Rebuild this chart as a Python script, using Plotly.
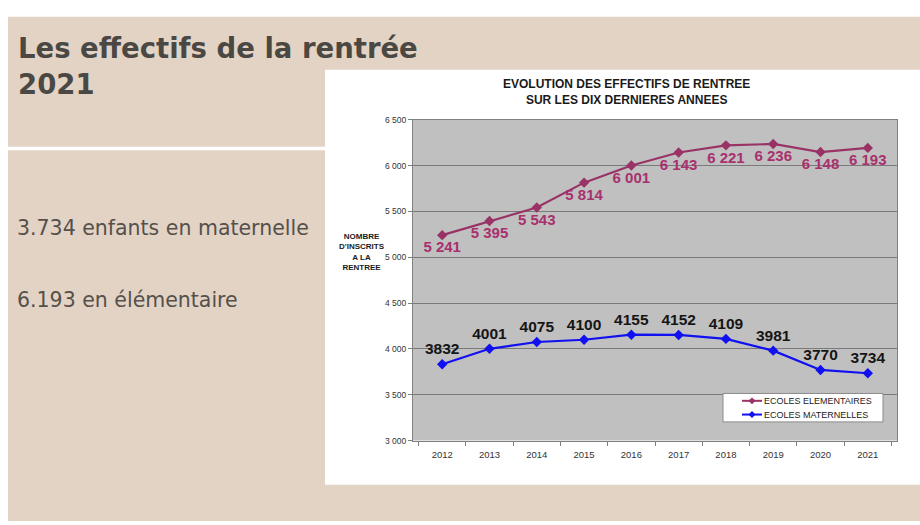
import plotly.graph_objects as go

years = ["2012", "2013", "2014", "2015", "2016", "2017", "2018", "2019", "2020", "2021"]
elementaires = [5241, 5395, 5543, 5814, 6001, 6143, 6221, 6236, 6148, 6193]
maternelles = [3832, 4001, 4075, 4100, 4155, 4152, 4109, 3981, 3770, 3734]
y_tick_vals = [3000, 3500, 4000, 4500, 5000, 5500, 6000, 6500]
y_tick_text = ["3 000", "3 500", "4 000", "4 500", "5 000", "5 500", "6 000", "6 500"]
series_names = ["ECOLES ELEMENTAIRES", "ECOLES MATERNELLES"]

W, H = 920, 525
def px(x):
    return x / W
def py(y):
    return 1 - y / H

BEIGE = "#e3d3c5"
TXT = "#4b4844"
PLUM = "#993366"
BLUE = "#1010f0"
ARIAL = "Liberation Sans, Arial, sans-serif"

fig = go.Figure()
fig.add_trace(go.Scatter(
    x=years, y=elementaires, mode="lines+markers+text",
    name=series_names[0], showlegend=False,
    line=dict(color=PLUM, width=2.2),
    marker=dict(symbol="diamond", size=8, color=PLUM),
    text=[f"{v:,}".replace(",", " ") for v in elementaires],
    textposition="bottom center",
    textfont=dict(family=ARIAL, size=15, color="#a8306e", weight="bold"),
    cliponaxis=False,
))
fig.add_trace(go.Scatter(
    x=years, y=maternelles, mode="lines+markers+text",
    name=series_names[1], showlegend=False,
    line=dict(color=BLUE, width=2.2),
    marker=dict(symbol="diamond", size=8, color=BLUE),
    text=[str(v) for v in maternelles],
    textposition="top center",
    textfont=dict(family=ARIAL, size=15.5, color="#151515", weight="bold"),
    cliponaxis=False,
))

def diamond(cx, cy, r=3.5):
    return (f"M {px(cx)} {py(cy - r)} L {px(cx + r)} {py(cy)} "
            f"L {px(cx)} {py(cy + r)} L {px(cx - r)} {py(cy)} Z")

shapes = [
    # beige slide
    dict(type="rect", xref="paper", yref="paper", x0=px(8), x1=px(921), y0=py(12), y1=py(526),
         fillcolor=BEIGE, line=dict(width=0), layer="below"),
    # white divider between title and body panels
    dict(type="rect", xref="paper", yref="paper", x0=px(8), x1=px(325), y0=py(144.5), y1=py(148),
         fillcolor="white", line=dict(width=0), layer="below"),
    # white chart image box
    dict(type="rect", xref="paper", yref="paper", x0=px(325), x1=px(921), y0=py(66), y1=py(489),
         fillcolor="white", line=dict(width=0), layer="below"),
    # grey plot area
    dict(type="rect", xref="x domain", yref="y domain", x0=0, x1=1, y0=0, y1=1,
         fillcolor="#c0c0c0", line=dict(width=0), layer="below"),
    # legend box
    dict(type="rect", xref="paper", yref="paper", x0=px(723), x1=px(883), y0=py(396), y1=py(425),
         fillcolor="white", line=dict(color="#8a8a8a", width=1), layer="above"),
]
legend_colors = [PLUM, BLUE]
legend_rows = [403.5, 417.5]
for color, ly in zip(legend_colors, legend_rows):
    shapes.append(dict(type="line", xref="paper", yref="paper", x0=px(742), x1=px(762),
                       y0=py(ly), y1=py(ly), line=dict(color=color, width=2), layer="above"))
    shapes.append(dict(type="path", xref="paper", yref="paper", path=diamond(752, ly),
                       fillcolor=color, line=dict(color=color, width=0), layer="above"))

annotations = [
    dict(text="Les effectifs de la rentrée<br>2021", xref="paper", yref="paper",
         x=px(16), y=py(25), xanchor="left", yanchor="top", align="left", showarrow=False,
         font=dict(family="DejaVu Sans, sans-serif", size=27.5, color=TXT, weight="bold")),
    dict(text="3.734 enfants en maternelle", xref="paper", yref="paper",
         x=px(15), y=py(227), xanchor="left", yanchor="middle", showarrow=False,
         font=dict(family="DejaVu Sans, sans-serif", size=20.5, color="#55504b")),
    dict(text="6.193 en élémentaire", xref="paper", yref="paper",
         x=px(15), y=py(301), xanchor="left", yanchor="middle", showarrow=False,
         font=dict(family="DejaVu Sans, sans-serif", size=20.5, color="#55504b")),
    dict(text="EVOLUTION DES EFFECTIFS DE RENTREE<br>SUR LES DIX DERNIERES ANNEES",
         xref="paper", yref="paper", x=px(626), y=py(89), xanchor="center", yanchor="middle",
         showarrow=False, align="center",
         font=dict(family=ARIAL, size=12, color="#1a1a1a", weight="bold")),
    dict(text="NOMBRE<br>D'INSCRITS<br>A LA<br>RENTREE", xref="paper", yref="paper",
         x=px(362), y=py(252), xanchor="center", yanchor="middle", showarrow=False, align="center",
         font=dict(family=ARIAL, size=8, color="#1a1a1a", weight="bold")),
]
for name, ly in zip(series_names, legend_rows):
    annotations.append(dict(text=name, xref="paper", yref="paper", x=px(762), y=py(ly),
                            xanchor="left", yanchor="middle", showarrow=False,
                            font=dict(family=ARIAL, size=9, color="#222222")))

fig.update_layout(
    width=W, height=H,
    margin=dict(l=0, r=0, t=0, b=0),
    paper_bgcolor="white",
    plot_bgcolor="rgba(0,0,0,0)",
    shapes=shapes,
    annotations=annotations,
    showlegend=False,
    xaxis=dict(domain=[px(413), px(897)], type="category",
               showgrid=False, zeroline=False,
               showline=True, linecolor="#808080", linewidth=1, mirror=True,
               ticks="outside", ticklen=4, tickcolor="#808080", tickson="boundaries",
               ticklabelstandoff=5,
               tickfont=dict(family=ARIAL, size=9.5, color="#333333"), fixedrange=True),
    yaxis=dict(domain=[py(444), py(117)], range=[3000, 6500],
               tickvals=y_tick_vals, ticktext=y_tick_text,
               showgrid=True, gridcolor="#7a7a7a", gridwidth=1, zeroline=False,
               showline=True, linecolor="#808080", linewidth=1, mirror=True,
               ticks="outside", ticklen=4, tickcolor="#808080",
               tickfont=dict(family=ARIAL, size=8.5, color="#333333"), fixedrange=True),
)

fig.write_html("out.html")
